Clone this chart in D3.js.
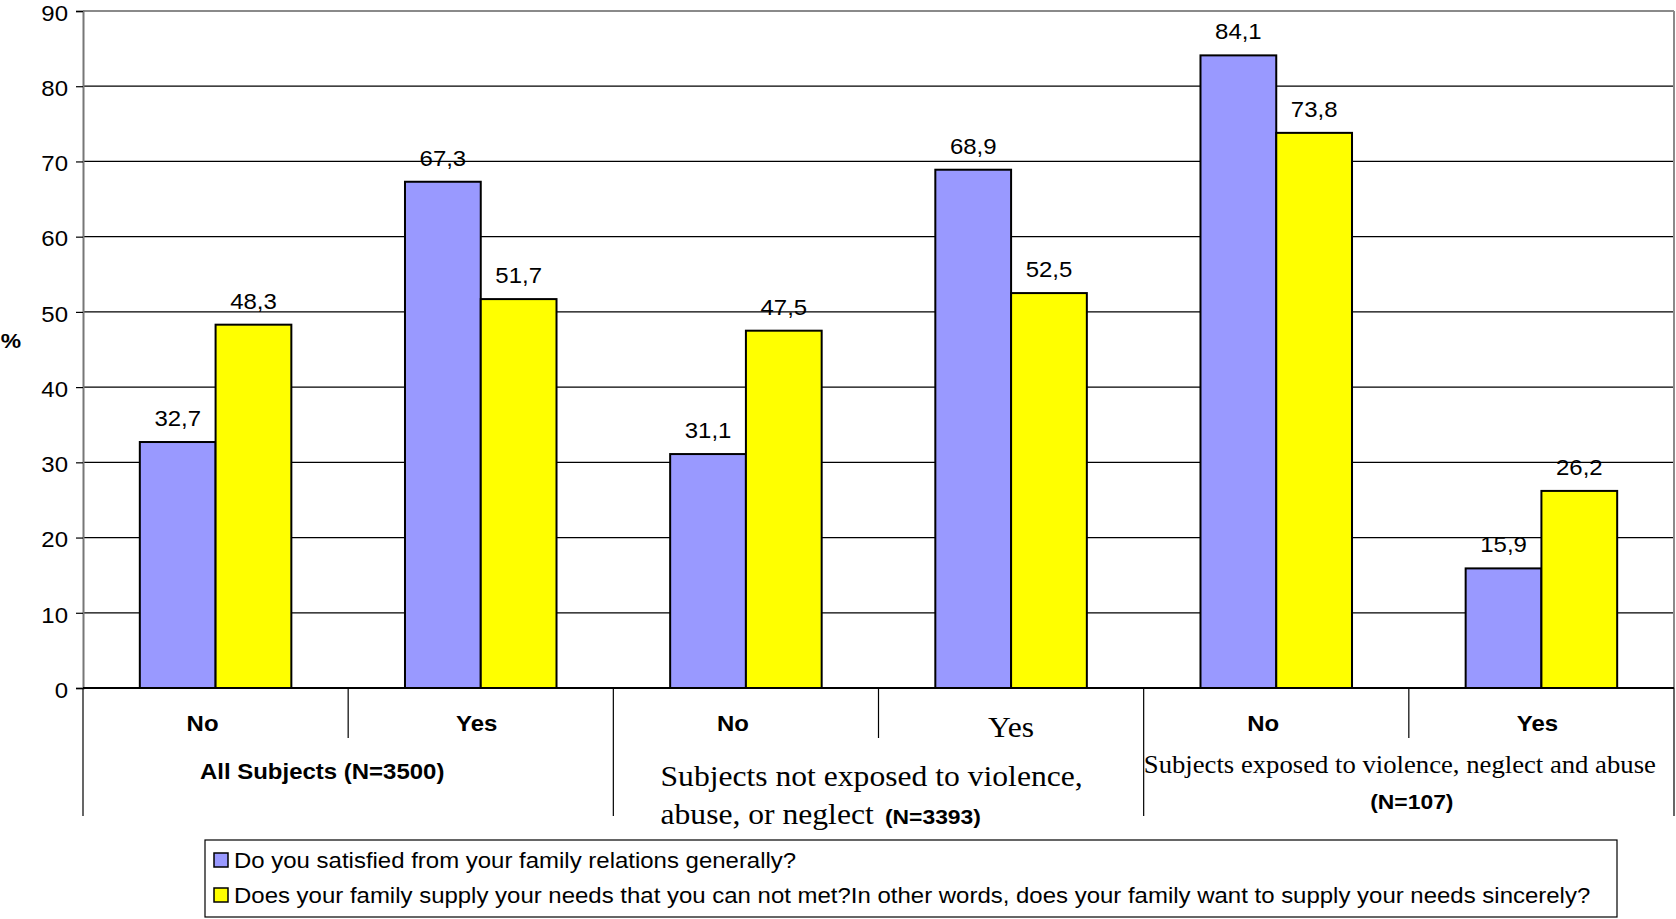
<!DOCTYPE html>
<html>
<head>
<meta charset="utf-8">
<script src="https://cdn.jsdelivr.net/npm/d3@7/dist/d3.min.js"></script>
<style>
  html, body { margin: 0; padding: 0; background: #fff; }
  svg { display: block; }
  .sans { font-family: Arial, "Liberation Sans", sans-serif; }
  .serif { font-family: "Times New Roman", "Liberation Serif", serif; }
</style>
</head>
<body>
<svg id="chart" width="1676" height="919"></svg>
<script>
// Answers by subgroup, in chart order
const categories = ["No", "Yes", "No", "Yes", "No", "Yes"];
const satisfied = [32.7, 67.3, 31.1, 68.9, 84.1, 15.9];
const supplied = [48.3, 51.7, 47.5, 52.5, 73.8, 26.2];
const seriesNames = [
  "Do you satisfied from your family relations generally?",
  "Does your family supply your needs that you can not met?In other words, does your family want to supply your needs sincerely?"
];
const groupLabels = [
  ["All Subjects (N=3500)"],
  ["Subjects not exposed to violence,", "abuse, or neglect", "(N=3393)"],
  ["Subjects exposed to violence, neglect and abuse", "(N=107)"]
];
const yTicks = [0, 10, 20, 30, 40, 50, 60, 70, 80, 90];

const colors = ["#9999FF", "#FFFF00"];
const svg = d3.select("#chart");
const plotL = 83, plotR = 1674, plotT = 11, plotB = 688;
const SX = 1.09; // text is drawn slightly widened

// Turn x/y placement of text into a transform so the glyphs can be widened
function stretch(sel) {
  sel.each(function () {
    const t = d3.select(this);
    const tx = +t.attr("x") || 0, ty = +t.attr("y") || 0;
    t.attr("x", 0).attr("y", 0).attr("transform", `translate(${tx},${ty}) scale(${SX},1)`);
  });
}

const y = d3.scaleLinear().domain([0, 90]).range([plotB, plotT]);
const x = d3.scaleBand().domain(d3.range(categories.length)).range([plotL, plotR]).paddingInner(0).paddingOuter(0);
const step = x.bandwidth();
const gap = step * 0.75 / 3.5;
const xs = d3.scaleBand().domain([0, 1]).range([gap, step - gap]).padding(0);
const fmt = v => d3.format(".1f")(v).replace(".", ",");

// Gridlines
svg.append("g")
  .selectAll("line").data(yTicks.filter(t => t > 0)).join("line")
  .attr("x1", plotL).attr("x2", plotR)
  .attr("y1", d => y(d)).attr("y2", d => y(d))
  .attr("stroke", d => d === 90 ? "#8a8a8a" : "#000").attr("stroke-width", d => d === 90 ? 2 : 1.2);

// Right border of plot
svg.append("line").attr("x1", plotR).attr("x2", plotR).attr("y1", plotT).attr("y2", plotB)
  .attr("stroke", "#8a8a8a").attr("stroke-width", 2);

// Y axis
const yAxis = svg.append("g").attr("transform", `translate(${plotL},0)`)
  .call(d3.axisLeft(y).tickValues(yTicks).tickSize(7).tickPadding(8));
yAxis.select(".domain").attr("stroke", "#777").attr("stroke-width", 2);
yAxis.selectAll(".tick line").attr("stroke", "#000").attr("stroke-width", 1.2);
yAxis.selectAll("text").attr("class", "sans").attr("font-size", 22).attr("fill", "#000")
  .attr("dy", "0.42em").call(stretch);

svg.append("text").attr("class", "sans").attr("x", 11).attr("y", 342)
  .attr("text-anchor", "middle").attr("dominant-baseline", "middle")
  .attr("font-size", 21).attr("font-weight", "bold").text("%").call(stretch);

// Bars with value labels
const series = [satisfied, supplied];
series.forEach((vals, s) => {
  const g = svg.append("g");
  g.selectAll("rect").data(vals).join("rect")
    .attr("x", (d, i) => x(i) + xs(s))
    .attr("y", d => y(d))
    .attr("width", xs.bandwidth())
    .attr("height", d => y(0) - y(d))
    .attr("fill", colors[s]).attr("stroke", "#000").attr("stroke-width", 2);
  g.selectAll("text").data(vals).join("text")
    .attr("class", "sans")
    .attr("x", (d, i) => x(i) + xs(s) + xs.bandwidth() / 2)
    .attr("y", d => y(d) - 16)
    .attr("text-anchor", "middle").attr("font-size", 22).attr("fill", "#000")
    .text(d => fmt(d))
    .call(stretch);
});

// Baseline
svg.append("line").attr("x1", plotL).attr("x2", plotR).attr("y1", y(0)).attr("y2", y(0))
  .attr("stroke", "#000").attr("stroke-width", 2);

// Category dividers: short between answers, long between groups
d3.range(categories.length + 1).forEach(i => {
  const xp = i < categories.length ? x(i) : plotR;
  const long = i % 2 === 0;
  svg.append("line").attr("x1", xp).attr("x2", xp)
    .attr("y1", y(0)).attr("y2", long ? 816 : 738)
    .attr("stroke", "#000").attr("stroke-width", 1.2);
});

// Answer labels
svg.append("g").selectAll("text").data(categories).join("text")
  .attr("class", (d, i) => i === 3 ? "serif" : "sans")
  .attr("x", (d, i) => x(i) + step / 2 + (i === 3 ? 0 : (d === "No" ? -13 : -4)))
  .attr("y", (d, i) => i === 3 ? 737 : 731)
  .attr("text-anchor", "middle")
  .attr("font-size", (d, i) => i === 3 ? 29 : 22)
  .attr("font-weight", (d, i) => i === 3 ? "normal" : "bold")
  .text(d => d)
  .call(stretch);

// Group labels
const gx = i => x(i * 2) + step;
svg.append("text").attr("class", "sans").attr("x", gx(0) - 26).attr("y", 779)
  .attr("text-anchor", "middle").attr("font-size", 22).attr("font-weight", "bold")
  .text(groupLabels[0][0]).call(stretch);

const g2 = svg.append("g");
g2.append("text").attr("class", "serif").attr("x", gx(1) - 218).attr("y", 786)
  .attr("font-size", 29).text(groupLabels[1][0]).call(stretch);
const l2 = g2.append("text").attr("class", "serif").attr("x", gx(1) - 218).attr("y", 824).attr("font-size", 29);
l2.append("tspan").text(groupLabels[1][1] + " ");
l2.append("tspan").attr("class", "sans").attr("font-size", 21).attr("font-weight", "bold").attr("dx", 3).text(groupLabels[1][2]);
l2.call(stretch);

svg.append("text").attr("class", "serif").attr("x", gx(2) - 9).attr("y", 773)
  .attr("text-anchor", "middle").attr("font-size", 24.5).text(groupLabels[2][0]).call(stretch);
svg.append("text").attr("class", "sans").attr("x", gx(2) + 3).attr("y", 809)
  .attr("text-anchor", "middle").attr("font-size", 21).attr("font-weight", "bold").text(groupLabels[2][1]).call(stretch);

// Legend
const lg = svg.append("g");
lg.append("rect").attr("x", 205).attr("y", 840).attr("width", 1412).attr("height", 77)
  .attr("fill", "#fff").attr("stroke", "#000").attr("stroke-width", 1.2);
seriesNames.forEach((name, s) => {
  const cy = 860 + s * 35;
  lg.append("rect").attr("x", 214).attr("y", cy - 7).attr("width", 14).attr("height", 14)
    .attr("fill", colors[s]).attr("stroke", "#000").attr("stroke-width", 1.5);
  lg.append("text").attr("class", "sans").attr("x", 234).attr("y", cy)
    .attr("dominant-baseline", "central").attr("font-size", 22).text(name).call(stretch);
});
</script>
</body>
</html>
